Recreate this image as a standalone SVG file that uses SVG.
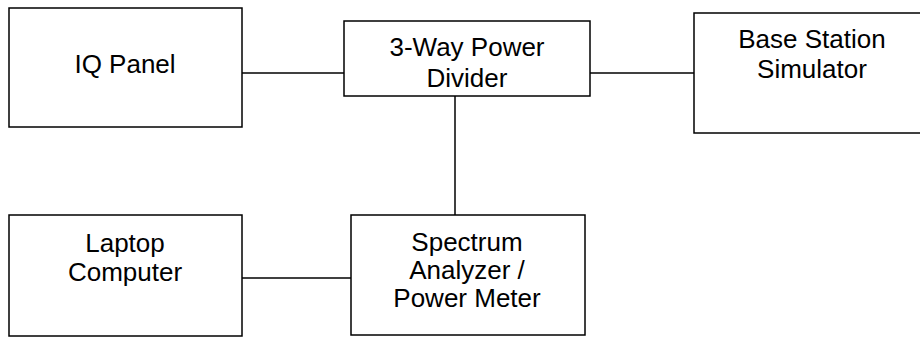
<svg xmlns="http://www.w3.org/2000/svg" width="920" height="338" viewBox="0 0 920 338">
<style>
.box{fill:#fff;stroke:#000;stroke-width:1.5}
.c{stroke:#000;stroke-width:1.5;fill:none}
text{font-family:"Liberation Sans",Arial,sans-serif;font-size:26px;fill:#000;text-anchor:middle}
</style>
<rect width="920" height="338" fill="#fff"/>
<g id="connectors">
<line class="c" x1="242" y1="73" x2="344" y2="73"/>
<line class="c" x1="590" y1="73" x2="694" y2="73"/>
<line class="c" x1="455" y1="96" x2="455" y2="215"/>
<line class="c" x1="242" y1="278" x2="351" y2="278"/>
</g>
<g id="iq-panel">
<rect class="box" x="9" y="8" width="233" height="119"/>
<text x="125" y="73">IQ Panel</text>
</g>
<g id="divider">
<rect class="box" x="344" y="21" width="246" height="75"/>
<text x="467" y="55.5">3-Way Power</text>
<text x="467" y="86.5">Divider</text>
</g>
<g id="base-station">
<rect class="box" x="694" y="13" width="240" height="120"/>
<text x="812" y="48">Base Station</text>
<text x="812" y="78">Simulator</text>
</g>
<g id="laptop">
<rect class="box" x="9" y="215" width="233" height="121"/>
<text x="125" y="251.5">Laptop</text>
<text x="125" y="280.5">Computer</text>
</g>
<g id="spectrum">
<rect class="box" x="351" y="215" width="234" height="120"/>
<text x="467" y="251">Spectrum</text>
<text x="467" y="278.5">Analyzer /</text>
<text x="467" y="306.5">Power Meter</text>
</g>
</svg>
